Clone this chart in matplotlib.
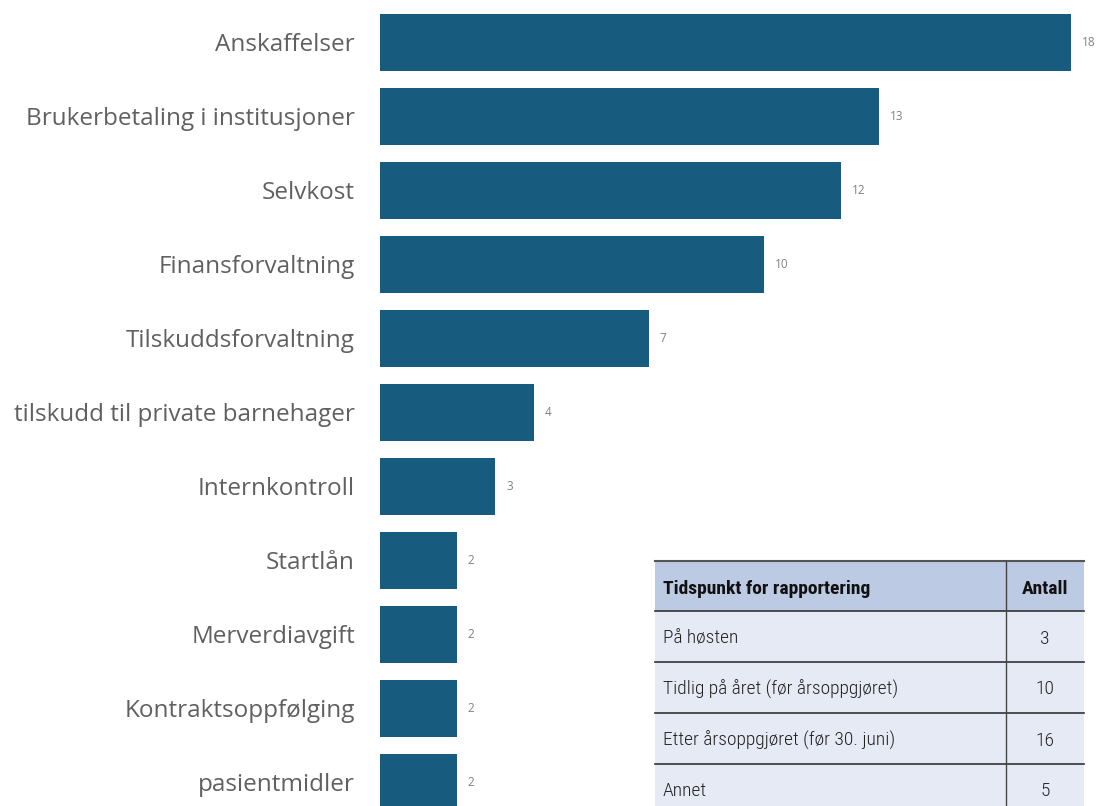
import matplotlib.pyplot as plt
from matplotlib.patches import Rectangle

# Bar chart data
categories = ['Anskaffelser', 'Brukerbetaling i institusjoner', 'Selvkost',
              'Finansforvaltning', 'Tilskuddsforvaltning',
              'tilskudd til private barnehager', 'Internkontroll', 'Startlån',
              'Merverdiavgift', 'Kontraktsoppfølging', 'pasientmidler']
counts = [18, 13, 12, 10, 7, 4, 3, 2, 2, 2, 2]

# Table data
table_header = ['Tidspunkt for rapportering', 'Antall']
table_rows = ['På høsten', 'Tidlig på året (før årsoppgjøret)',
              'Etter årsoppgjøret (før 30. juni)', 'Annet']
table_counts = [3, 10, 16, 5]

W, H = 1103, 806
fig = plt.figure(figsize=(W / 100, H / 100), dpi=100)

bar_color = '#175c7e'
label_color = '#606060'
label_font = ['Open Sans', 'DejaVu Sans']

# bar axes: bars start at x=380 px, 38.4 px per unit, pitch 74 px
ax = fig.add_axes([380 / W, 0, 1 - 380 / W, 1])
ypos = list(range(len(categories)))
ax.barh(ypos, counts, height=0.77, color=bar_color)
ax.set_xlim(0, (W - 380) / 38.4)
ax.set_ylim((H - 42.5) / 74, -42.5 / 74)
ax.axis('off')

for y, (cat, v) in enumerate(zip(categories, counts)):
    ax.annotate(cat, xy=(0, y), xytext=(-18, -1.5), textcoords='offset points',
                ha='right', va='center', fontsize=17.5, color=label_color,
                family=label_font)
    ax.annotate(str(v), xy=(v, y), xytext=(8, 0), textcoords='offset points',
                ha='left', va='center', fontsize=8.5, color='#808080',
                family=label_font)

# table in pixel coordinates
tx0, tx1, tdiv = 655, 1084, 1006
ty_top, row_h, head_h = 561, 51, 50
tax = fig.add_axes([0, 0, 1, 1], facecolor='none')
tax.set_xlim(0, W)
tax.set_ylim(H, 0)
tax.axis('off')

narrow = ['Roboto Condensed', 'Roboto', 'DejaVu Sans']
tax.add_patch(Rectangle((tx0, ty_top), tx1 - tx0, head_h,
                        facecolor='#bdcae3', edgecolor='none'))
tax.text(tx0 + 8, ty_top + head_h / 2 + 3, table_header[0], ha='left',
         va='center', fontsize=14, fontweight='bold', color='#111111',
         family=narrow)
tax.text((tdiv + tx1) / 2, ty_top + head_h / 2 + 3, table_header[1],
         ha='center', va='center', fontsize=14, fontweight='bold',
         color='#111111', family=narrow)

y = ty_top + head_h
for name, n in zip(table_rows, table_counts):
    tax.add_patch(Rectangle((tx0, y), tx1 - tx0, row_h,
                            facecolor='#e5eaf5', edgecolor='none'))
    tax.text(tx0 + 8, y + row_h / 2 + 2, name, ha='left', va='center',
             fontsize=14, fontweight='light', color='#222222', family=narrow)
    tax.text((tdiv + tx1) / 2, y + row_h / 2 + 2, str(n), ha='center',
             va='center', fontsize=14, fontweight='light', color='#222222',
             family=narrow)
    y += row_h

# grid lines
tax.plot([tx0, tx1], [ty_top, ty_top], color='#555555', lw=1.5)
for k in range(len(table_rows)):
    yy = ty_top + head_h + k * row_h
    tax.plot([tx0, tx1], [yy, yy], color='#333333', lw=1.2)
tax.plot([tdiv, tdiv], [ty_top, H], color='#444444', lw=1)

fig.savefig('out.png', dpi=100, facecolor='white')
